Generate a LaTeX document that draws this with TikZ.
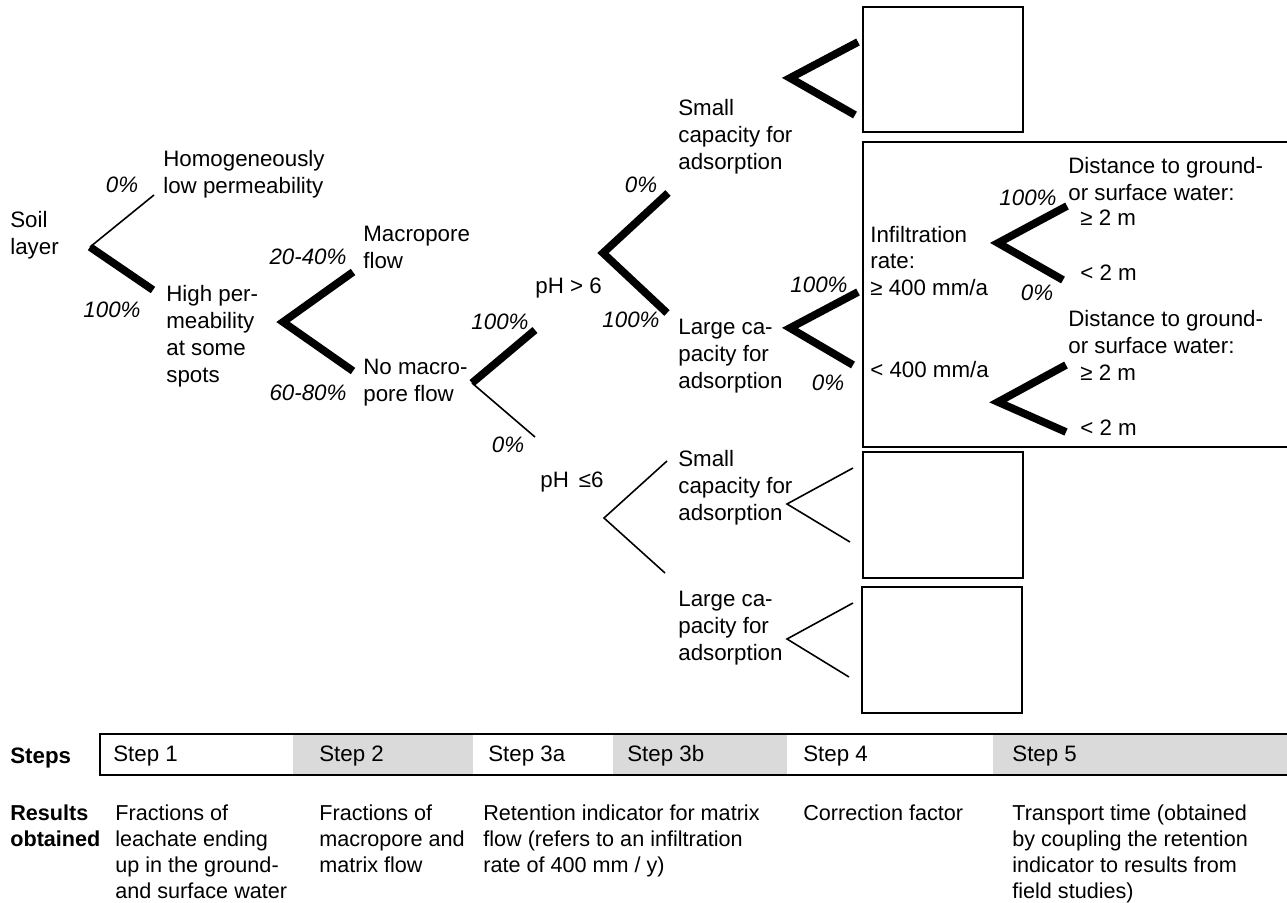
\documentclass[tikz,border=0pt]{standalone}
\usepackage{fontspec}
\setmainfont{Liberation Sans}
\usetikzlibrary{positioning}
\definecolor{stepgray}{HTML}{DADADA}
\newcommand{\treefont}{\fontsize{12.7}{15.3}\selectfont}
\newcommand{\resfont}{\fontsize{12.3}{14.8}\selectfont}

\begin{document}
\begin{tikzpicture}[x=0.02cm, y=-0.02cm,
  every node/.style={inner sep=0pt, font=\treefont},
  txt/.style={anchor=west, align=left},
  pct/.style={font=\treefont\itshape},
  head/.style={anchor=north west, align=left, font=\resfont\bfseries},
  res/.style={anchor=north west, align=left, font=\resfont},
  heavy/.style={line width=4.4pt},
  light/.style={line width=0.9pt},
  boxline/.style={line width=1.1pt}]
  \useasboundingbox (0,0) rectangle (1287,902);

  % Branch points: vertex, upper end, lower end
  \foreach \n/\vx/\vy/\ux/\uy/\lx/\ly in {
      1/90/247/154/195/153/290,   2/283/322/353/272/353/371,
      3/472/383/535/330/535/437,  4/603/253/668/193/667/313,
      5/790/78/858/42/855/115,    6/790/328/858/292/853/365,
      7/998/243/1067/206/1063/280, 8/998/402/1066/365/1066/432,
      9/604/518/667/461/665/573,  10/787/504/853/468/850/542,
      11/787/639/853/603/849/677}
  {
    \coordinate (v\n) at (\vx,\vy);
    \coordinate (u\n) at (\ux,\uy);
    \coordinate (l\n) at (\lx,\ly);
  }

  % Branches
  \foreach \n in {2,4,5,6,7,8}
    \draw[heavy] (u\n) -- (v\n) -- (l\n);
  \draw[heavy] (v1) -- (l1);
  \draw[heavy] (v3) -- (u3);
  \draw[light] (v1) -- (u1);
  \draw[light] (v3) -- (l3);
  \foreach \n in {9,10,11}
    \draw[light] (u\n) -- (v\n) -- (l\n);

  % Result boxes
  \draw[boxline] (863,7) rectangle (1023,132);
  \draw[boxline] (1287,142) -| (863,447) -- (1287,447);
  \draw[boxline] (863,452) rectangle (1023,578);
  \draw[boxline] (862,587) rectangle (1022,713);

  % Tree labels
  \node[txt] (soil) at (10,235) {Soil\\layer};
  \node[txt] (homog) at (163,174) {Homogeneously\\low permeability};
  \node[txt] (highp) at (166,336) {High per-\\meability\\at some\\spots};
  \node[txt] (macro) at (363,247) {Macropore\\flow};
  \node[txt] (nomacro) at (363,383) {No macro-\\pore flow};
  \node[txt] (phhigh) at (535,288) {pH > 6};
  \node[txt] (phlow) at (540,482) {pH\hspace{0.45em}≤6};
  \node[txt] (smallhi) at (678,137) {Small\\capacity for\\adsorption};
  \node[txt] (largehi) at (678,356) {Large ca-\\pacity for\\adsorption};
  \node[txt] (smalllo) at (678,488) {Small\\capacity for\\adsorption};
  \node[txt] (largelo) at (678,628) {Large ca-\\pacity for\\adsorption};
  \node[txt] (infhigh) at (870,261) {Infiltration\\rate:\\≥ 400 mm/a};
  \node[txt] (inflow) at (870,370) {< 400 mm/a};
  \node[txt] (distA) at (1068,179) {Distance to ground-\\or surface water:};
  \node[txt] (geA) at (1080,218) {≥ 2 m};
  \node[txt] (ltA) at (1080,273) {< 2 m};
  \node[txt] (distB) at (1068,332) {Distance to ground-\\or surface water:};
  \node[txt] (geB) at (1080,373) {≥ 2 m};
  \node[txt] (ltB) at (1080,428) {< 2 m};

  % Fractions
  \node[pct] (f1u) at (122,185) {0\%};
  \node[pct] (f1l) at (112,310) {100\%};
  \node[pct] (f2u) at (308,257) {20-40\%};
  \node[pct] (f2l) at (308,393) {60-80\%};
  \node[pct] (f3u) at (500,322) {100\%};
  \node[pct] (f3l) at (508,445) {0\%};
  \node[pct] (f4u) at (641,185) {0\%};
  \node[pct] (f4l) at (631,320) {100\%};
  \node[pct] (f6u) at (819,285) {100\%};
  \node[pct] (f6l) at (828,383) {0\%};
  \node[pct] (f7u) at (1028,198) {100\%};
  \node[pct] (f7l) at (1037,293) {0\%};

  % Steps bar
  \node[head, anchor=west, font=\treefont\bfseries] (steps) at (10,758) {Steps};
  \foreach \xa/\xb/\col/\lx/\lbl in {100/293/white/113/Step 1,
      293/473/stepgray/319/Step 2, 473/613/white/488/Step 3a,
      613/787/stepgray/627/Step 3b, 787/993/white/803/Step 4,
      993/1287/stepgray/1012/Step 5}
  {
    \fill[\col] (\xa,734) rectangle (\xb,775);
    \node[txt] (st\lx) at (\lx,756) {\lbl};
  }
  \draw[boxline] (1287,734) -- (100,734) -- (100,775) -- (1287,775);

  % Results
  \node[head] (results) at (10,804) {Results\\obtained};
  \node[res] (res1) at (115,804)
    {Fractions of\\leachate ending\\up in the ground-\\and surface water};
  \node[res] (res2) at (319,804) {Fractions of\\macropore and\\matrix flow};
  \node[res] (res3) at (483,804)
    {Retention indicator for matrix\\flow (refers to an infiltration\\rate of 400 mm / y)};
  \node[res] (res4) at (803,804) {Correction factor};
  \node[res] (res5) at (1012,804)
    {Transport time (obtained\\by coupling the retention\\indicator to results from\\field studies)};
\end{tikzpicture}
\end{document}
